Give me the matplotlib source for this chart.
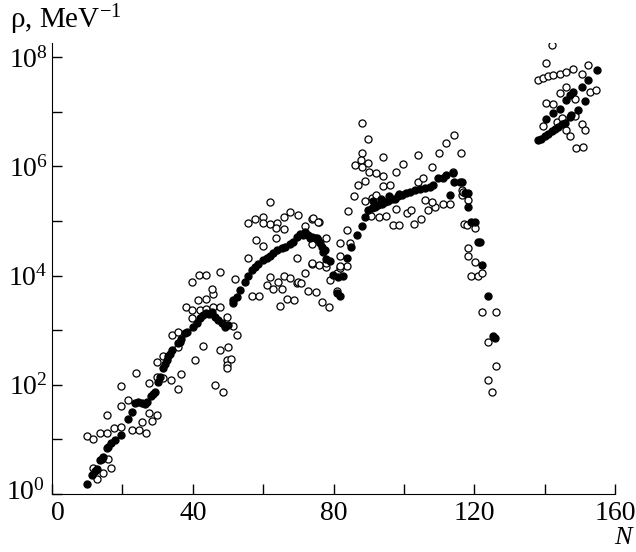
import numpy as np
import matplotlib
matplotlib.use("Agg")
import matplotlib.pyplot as plt
import matplotlib.transforms as mtransforms

plt.rcParams["font.family"] = "serif"
plt.rcParams["font.serif"] = ["Liberation Serif", "DejaVu Serif"]
plt.rcParams["mathtext.fontset"] = "custom"
plt.rcParams["mathtext.rm"] = "Liberation Serif"
plt.rcParams["mathtext.it"] = "Liberation Serif:italic"

# filled circles: neutron number N and log10(rho / MeV^-1)
filled_n = [
    9.9, 11.5, 12.2, 12.8, 13.6, 14.1, 14.6, 15.5, 16.0, 16.9, 17.9, 19.6, 21.7, 22.6, 23.6,
    24.5, 25.5, 26.4, 27.0, 28.0, 28.8, 29.3, 30.2, 30.7,
    31.6, 32.1, 32.6, 33.1, 33.6, 34.0, 35.9, 36.4, 36.8, 37.8, 38.3, 40.1, 41.1, 42.0, 43.0,
    43.9, 44.5, 45.4, 46.3, 47.3, 48.2, 49.1, 50.1, 51.5, 51.5, 52.5, 53.4, 54.8, 55.8,
    56.7, 57.7, 58.6, 60.0, 61.0, 61.9, 62.9, 64.0, 65.3, 66.2, 67.6, 68.6, 69.5, 70.5, 71.4,
    71.9, 72.8, 73.3, 73.8, 74.7, 75.2, 75.7, 76.1, 76.6, 77.1, 77.6, 78.0, 79.0, 79.9, 80.9,
    81.3, 81.8, 82.8,
    83.7, 84.9, 86.7, 88.0, 88.9, 89.9, 90.8, 91.8, 92.7, 93.7, 94.6, 95.6, 96.5, 97.5, 98.4,
    99.4, 100.5, 91.3, 93.5, 95.9, 98.6,
    101.7, 103.1, 104.5, 106.0, 107.4, 108.3, 109.8, 111.2, 112.1, 113.1, 114.0, 114.2, 115.9,
    116.4, 117.3, 118.3, 118.3, 119.2, 120.2, 121.1, 121.6, 122.1, 124.0, 125.2, 125.9,
    138.2, 139.1, 140.1, 141.0, 142.0, 142.9, 143.9, 144.8, 145.7, 140.4, 142.4, 144.3, 147.1,
    147.6, 149.5, 151.4, 146.2, 147.1, 148.1, 150.5, 152.4, 154.8,
]
filled_lg = [
    0.18, 0.35, 0.42, 0.45, 0.62, 0.64, 0.68, 0.84, 0.86, 0.93, 0.99, 1.08, 1.37, 1.51, 1.66,
    1.69, 1.66, 1.65, 1.69, 1.79, 1.84, 1.87, 2.05, 2.15,
    2.30, 2.39, 2.46, 2.52, 2.56, 2.64, 2.76, 2.79, 2.83, 2.94, 2.97, 3.06, 3.14, 3.22, 3.28,
    3.31, 3.30, 3.34, 3.25, 3.19, 3.13, 3.06, 3.09, 3.49, 3.55, 3.61, 3.73, 3.89, 3.99,
    4.10, 4.16, 4.22, 4.28, 4.33, 4.36, 4.41, 4.47, 4.50, 4.52, 4.58, 4.62, 4.71, 4.76, 4.74,
    4.79, 4.74, 4.68, 4.71, 4.68, 4.68, 4.65, 4.59, 4.53, 4.44, 4.47, 4.30, 4.26, 4.01, 3.68,
    3.98, 3.62, 3.99,
    4.32, 4.53, 4.74, 4.91, 5.08, 5.21, 5.23, 5.26, 5.29, 5.32, 5.35, 5.37, 5.40, 5.41, 5.45,
    5.48, 5.51, 5.37, 5.41, 5.45, 5.50,
    5.54, 5.57, 5.59, 5.61, 5.63, 5.66, 5.78, 5.78, 5.84, 5.48, 5.87, 5.72, 5.72,
    5.72, 5.52, 5.52, 5.26, 4.99, 4.99, 4.62, 4.62, 4.19, 3.63, 2.89, 2.85,
    6.48, 6.51, 6.56, 6.59, 6.64, 6.68, 6.73, 6.77, 6.80, 6.87, 6.97, 7.06, 6.91,
    6.94, 7.04, 7.19, 7.22, 7.31, 7.37, 7.46, 7.59, 7.77,
]

# open circles
open_n = [
    9.85, 11.7, 13.6, 15.5, 15.5, 17.6, 19.6, 19.6, 19.6, 21.7, 22.6, 24.7, 26.7, 25.5, 28.3,
    27.6, 29.7, 27.6, 11.7, 14.6, 12.7, 16.7, 16.0, 23.8,
    29.7, 31.6, 33.7, 35.9, 36.8, 29.7, 31.6, 34.0, 35.9, 35.9, 40.6, 43.0, 38.1, 39.7, 42.0,
    43.9, 45.8, 47.7, 39.7, 41.6, 43.8, 45.8, 45.6, 39.9, 41.8, 43.8, 47.7, 52.0, 47.7, 50.1,
    49.6, 50.8, 49.6, 49.6, 46.3, 48.7, 49.6, 51.5, 52.5,
    61.9, 55.8, 57.7, 59.9, 61.9, 60.0, 64.0, 66.0, 67.6, 69.8, 73.8, 76.0, 63.8, 66.0, 57.9,
    59.9, 63.8, 77.9, 55.8, 69.7, 73.8, 61.9, 64.3, 66.0, 67.6, 61.0, 62.9, 65.3, 69.7, 71.9,
    72.8, 75.0, 74.0, 77.9, 80.9, 56.9, 58.9, 66.9, 68.9, 64.8, 76.6, 78.8, 71.9, 74.2, 75.7,
    78.0, 76.0, 73.8, 69.9, 70.8, 79.0, 81.8, 81.8, 81.8, 80.9,
    88.0, 89.9, 88.0, 87.8, 86.1, 88.0, 89.9, 90.1, 88.9, 92.2, 94.1, 94.0, 97.9, 99.8, 104.1,
    108.1, 110.0, 112.1, 114.2, 116.2, 86.9, 85.8, 88.9, 90.8, 92.0, 94.1, 96.0, 104.1, 105.5,
    90.6, 93.0, 94.9, 97.9, 100.8, 102.0, 106.9, 108.8, 111.0, 96.8, 98.7, 103.0, 104.9, 106.0,
    107.9, 84.0, 83.7, 84.6, 83.7, 81.8, 114.0, 113.1, 116.4, 116.4, 118.3, 117.1, 120.2,
    118.3, 120.2, 119.2, 121.1, 122.1, 122.1, 126.2, 124.0, 126.2, 124.0, 125.0, 117.8, 118.3,
    116.9,
    142.2, 140.3, 138.2, 139.6, 141.0, 142.4, 144.3, 146.2, 148.1, 150.5, 152.4, 146.2, 144.3,
    152.9, 154.6, 140.4, 142.4, 148.6, 139.4, 143.4, 144.8, 148.6, 150.5, 151.4, 146.2, 147.1,
    149.0, 150.9,
]
open_lg = [
    1.06, 1.00, 1.12, 1.12, 1.44, 1.21, 1.23, 1.61, 1.98, 1.72, 1.18, 1.18, 1.12, 1.31, 1.33,
    1.49, 1.45, 2.04, 0.47, 0.39, 0.27, 0.48, 0.64, 2.22,
    2.15, 2.12, 2.09, 1.92, 2.20, 2.42, 2.53, 2.91, 2.97, 2.70, 2.45, 2.71, 3.43, 3.37, 3.37,
    3.38, 3.43, 3.42, 3.22, 3.55, 3.58, 3.67, 3.76, 3.89, 4.01, 4.01, 4.07, 3.93, 2.64, 2.70,
    2.45, 2.48, 2.36, 2.30, 2.00, 1.87, 3.25, 3.07, 2.91,
    5.35, 4.96, 5.03, 5.08, 4.94, 4.97, 4.97, 5.08, 5.17, 5.11, 5.03, 4.99, 4.87, 4.85, 4.65,
    4.54, 4.68, 4.68, 4.33, 4.32, 4.58, 3.97, 3.89, 4.00, 3.95, 3.83, 3.75, 3.75, 3.87, 4.04,
    3.72, 3.70, 4.21, 4.16, 4.04, 3.63, 3.63, 3.58, 3.55, 3.44, 3.52, 3.43, 4.90, 5.05, 4.99,
    4.23, 4.20, 4.23, 3.89, 3.86, 3.92, 4.14, 4.35, 4.60, 3.71,
    6.80, 6.51, 6.24, 6.12, 6.02, 5.99, 6.06, 5.90, 5.73, 5.88, 5.82, 6.18, 5.90, 6.04, 6.21,
    5.99, 6.24, 6.42, 6.58, 6.24, 5.66, 5.46, 5.36, 5.42, 5.48, 5.64, 5.66, 5.72, 5.78,
    5.09, 5.07, 5.09, 5.22, 5.14, 5.20, 5.20, 5.26, 5.32, 4.93, 4.93, 4.95, 5.03, 5.38,
    5.35, 5.19, 4.83, 4.59, 4.17, 4.17, 5.90, 5.32, 5.56, 5.48, 5.38, 4.94, 4.88,
    4.50, 4.25, 3.99, 3.99, 4.05, 3.33, 3.33, 2.79, 2.34, 2.08, 1.86, 4.93, 4.35,
    5.54,
    8.22, 7.89, 7.58, 7.61, 7.65, 7.68, 7.70, 7.72, 7.78, 7.69, 7.86, 7.46, 7.34,
    7.36, 7.40, 7.16, 7.14, 7.23, 6.74, 6.82, 6.88, 6.93, 6.78, 6.67, 6.67, 6.55,
    6.33, 6.36,
]

fig = plt.figure(figsize=(6.36, 5.52), dpi=100)
ax = fig.add_axes([52 / 636, 1 - 494 / 552, (615 - 52) / 636, (494 - 43) / 552])

ax.scatter(open_n, 10.0 ** np.array(open_lg), s=26, facecolors="white",
           edgecolors="black", linewidths=0.9, zorder=2)
ax.scatter(filled_n, 10.0 ** np.array(filled_lg), s=26, facecolors="black",
           edgecolors="black", linewidths=0.9, zorder=3)

ax.set_yscale("log")
ax.set_xlim(0, 160)
ax.set_ylim(1, 10 ** 8.26)

ax.spines["top"].set_visible(False)
ax.spines["right"].set_visible(False)

ax.set_xticks(np.arange(0, 161, 20))
ax.set_xticklabels([str(v) if v % 40 == 0 else "" for v in range(0, 161, 20)])
ax.set_yticks([10.0 ** k for k in range(0, 9)])
ax.set_yticklabels([f"$10^{{{k}}}$" if k % 2 == 0 else "" for k in range(0, 9)])
ax.yaxis.set_minor_locator(matplotlib.ticker.NullLocator())
ax.tick_params(direction="in", length=7, width=1, labelsize=20)
ax.tick_params(axis="x", pad=5)
ax.tick_params(axis="y", pad=3)

# keep "10^0" and the x "0" apart where the axes meet
lbl0 = ax.get_yticklabels()[0]
lbl0.set_transform(lbl0.get_transform() + mtransforms.ScaledTranslation(-2 / 72, 3 / 72, fig.dpi_scale_trans))
xl0 = ax.get_xticklabels()[0]
xl0.set_transform(xl0.get_transform() + mtransforms.ScaledTranslation(4 / 72, 0, fig.dpi_scale_trans))

fig.text(10 / 636, 1 - 20 / 552, "ρ, MeV$^{-1}$", fontsize=21, va="center", ha="left")
fig.text(632 / 636, 1 - 538 / 552, "N", fontsize=19, style="italic", va="center", ha="right")

fig.savefig("out.png", dpi=100)
